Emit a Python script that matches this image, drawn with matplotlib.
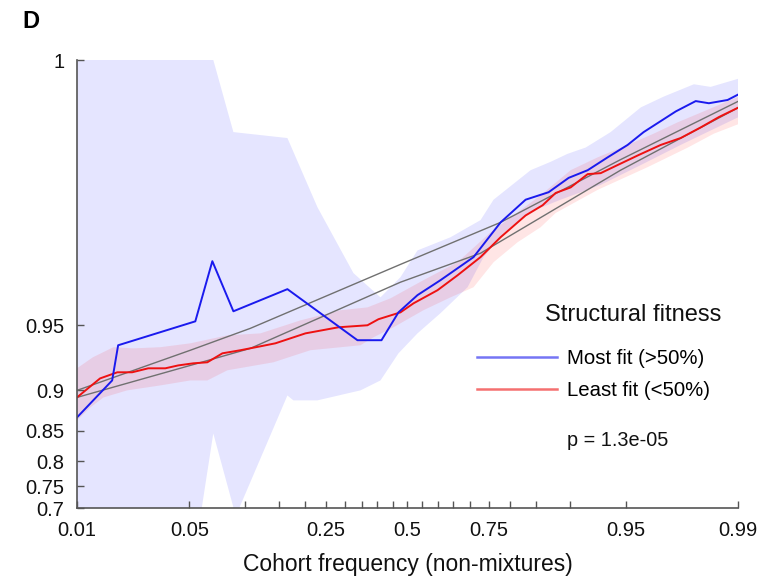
import numpy as np
import matplotlib
matplotlib.use('Agg')
import matplotlib.pyplot as plt
from matplotlib.lines import Line2D
from matplotlib.ticker import NullFormatter

plt.rcParams['font.family'] = ['Liberation Sans', 'DejaVu Sans']

# axis ends (printed as 0.01 / 0.99 and 1)
x_lo, x_hi = 0.0114, 0.9886
y_lo, y_hi = 0.7, 0.9975

x_ticks = [x_lo, 0.05, 0.25, 0.5, 0.75, 0.95, x_hi]
x_tick_labels = ['0.01', '0.05', '0.25', '0.5', '0.75', '0.95', '0.99']
x_minor = [0.1, 0.15, 0.2, 0.3, 0.35, 0.4, 0.45, 0.55, 0.6, 0.65, 0.7, 0.8, 0.85, 0.9]
y_ticks = [0.7, 0.75, 0.8, 0.85, 0.9, 0.95, y_hi]
y_tick_labels = ['0.7', '0.75', '0.8', '0.85', '0.9', '0.95', '1']

# most fit (>50%)
most_x = [0.0114, 0.0182, 0.0197, 0.0539, 0.0669, 0.0870, 0.1650, 0.3372, 0.4131,
          0.4696, 0.5337, 0.6097, 0.7093, 0.7785, 0.8313, 0.8705, 0.8981, 0.9193,
          0.9372, 0.9513, 0.9604, 0.9740, 0.9800, 0.9832, 0.9869, 0.9887]
most_y = [0.8684, 0.9098, 0.9379, 0.9521, 0.9754, 0.9571, 0.9664, 0.9412, 0.9412,
          0.9566, 0.9641, 0.9696, 0.9765, 0.9841, 0.9877, 0.9887, 0.9904, 0.9912,
          0.9924, 0.9934, 0.9943, 0.9955, 0.9960, 0.9959, 0.99605, 0.9963]
most_hi_x = [0.0114, 0.0669, 0.0870, 0.1650, 0.2287, 0.3252, 0.4098, 0.4763, 0.5337,
             0.6413, 0.7283, 0.7617, 0.8405, 0.8735, 0.8968, 0.9172, 0.9395, 0.9589,
             0.9695, 0.9795, 0.9836, 0.9886]
most_hi_y = [0.9976, 0.9976, 0.9943, 0.9939, 0.9866, 0.9719, 0.9632, 0.9706, 0.9782,
             0.9812, 0.9845, 0.9877, 0.9912, 0.9920, 0.9927, 0.9932, 0.9943, 0.9957,
             0.9962, 0.9967, 0.9966, 0.9969]
most_lo_x = [0.0114, 0.0506, 0.0677, 0.0896, 0.1650, 0.1764, 0.2287, 0.3464, 0.4098,
             0.4696, 0.5337, 0.6097, 0.6923, 0.7363, 0.7853, 0.8350, 0.8877, 0.9314,
             0.9589, 0.9756, 0.9887]
most_lo_y = [0.5, 0.5, 0.8459, 0.68, 0.8946, 0.8892, 0.8892, 0.9000, 0.9098,
             0.9323, 0.9454, 0.9562, 0.9671, 0.9765, 0.9820, 0.9857, 0.9877, 0.9896,
             0.9917, 0.9934, 0.9952]

# least fit (<50%)
least_x = [0.0114, 0.0155, 0.0195, 0.0237, 0.0293, 0.0366, 0.0433, 0.0526, 0.0628,
           0.0759, 0.0948, 0.1207, 0.1438, 0.2013, 0.2825, 0.3680, 0.4032, 0.4763,
           0.5203, 0.5999, 0.6628, 0.7283, 0.7785, 0.8313, 0.8611, 0.8808, 0.9005,
           0.9193, 0.9314, 0.9446, 0.9578, 0.9683, 0.9756, 0.9813, 0.9853, 0.9887]
least_y = [0.8925, 0.9117, 0.9172, 0.9172, 0.9206, 0.9206, 0.9230, 0.9247, 0.9255,
           0.9323, 0.9345, 0.9372, 0.9392, 0.9454, 0.9489, 0.9500, 0.9532, 0.9566,
           0.9607, 0.9660, 0.9712, 0.9765, 0.9812, 0.9853, 0.9869, 0.9886, 0.9893,
           0.9908, 0.9909, 0.9917, 0.9926, 0.9934, 0.9939, 0.9946, 0.9952, 0.9957]
least_hi_x = [0.0114, 0.0141, 0.0185, 0.0240, 0.0343, 0.0506, 0.0807, 0.1207, 0.1906,
              0.2880, 0.3680, 0.4428, 0.5538, 0.6628, 0.7543, 0.8155, 0.8578, 0.9005,
              0.9288, 0.9513, 0.9653, 0.9746, 0.9820, 0.9887]
least_hi_y = [0.9206, 0.9294, 0.9366, 0.9358, 0.9366, 0.9392, 0.9442, 0.9454, 0.9526,
              0.9576, 0.9589, 0.9628, 0.9696, 0.9751, 0.9822, 0.9858, 0.9883, 0.9912,
              0.9924, 0.9934, 0.9942, 0.9949, 0.9955, 0.9962]
least_lo_x = [0.0114, 0.0136, 0.0162, 0.0222, 0.0343, 0.0506, 0.0628, 0.0807, 0.1406,
              0.2123, 0.3464, 0.3872, 0.4529, 0.5538, 0.6413, 0.7093, 0.7617, 0.8155,
              0.8578, 0.8808, 0.9288, 0.9624, 0.9778, 0.9843, 0.9887]
least_lo_y = [0.8644, 0.8809, 0.8924, 0.9000, 0.9050, 0.9098, 0.9098, 0.9189, 0.9255,
              0.9345, 0.9379, 0.9430, 0.9489, 0.9576, 0.9632, 0.9671, 0.9751, 0.9801,
              0.9832, 0.9857, 0.9890, 0.9915, 0.9932, 0.9942, 0.9948]

# reference fits
fit1_x = [0.0114, 0.0506, 0.1070, 0.4763, 0.7785, 0.9467, 0.9887]
fit1_y = [0.9000, 0.9345, 0.9483, 0.9745, 0.9841, 0.9922, 0.9960]
fit2_x = [0.0114, 0.0506, 0.1070, 0.4763, 0.7283, 0.9467, 0.9887]
fit2_y = [0.8925, 0.9230, 0.9358, 0.9689, 0.9775, 0.9912, 0.9957]

p_text = 'p = 1.3e-05'

fig = plt.figure(figsize=(7.66, 5.77), dpi=100)
ax = fig.add_axes([77 / 766, 1 - 508 / 577, 661 / 766, 448 / 577])
ax.set_xscale('logit')
ax.set_yscale('logit')


def band(x_hi_, y_hi_, x_lo_, y_lo_, color):
    xs = np.concatenate([x_hi_, x_lo_[::-1]])
    ys = np.concatenate([y_hi_, y_lo_[::-1]])
    ax.fill(xs, ys, color=color, alpha=0.1, lw=0)


band(most_hi_x, most_hi_y, most_lo_x, most_lo_y, '#0000ff')
band(least_hi_x, least_hi_y, least_lo_x, least_lo_y, '#ff0000')

ax.plot(fit1_x, fit1_y, color='#707070', lw=1.0)
ax.plot(fit2_x, fit2_y, color='#707070', lw=1.0)
ax.plot(least_x, least_y, color='#ee1111', lw=1.4)
ax.plot(most_x, most_y, color='#1a1aee', lw=1.4)

ax.set_xlim(x_lo, x_hi)
ax.set_ylim(y_lo, y_hi)
ax.set_xticks(x_ticks, x_tick_labels)
ax.set_xticks(x_minor, minor=True)
ax.xaxis.set_minor_formatter(NullFormatter())
ax.set_yticks(y_ticks, y_tick_labels)
ax.set_yticks([], minor=True)

for s in ['top', 'right']:
    ax.spines[s].set_visible(False)
for s in ['left', 'bottom']:
    ax.spines[s].set_color('#555555')
    ax.spines[s].set_linewidth(1.2)
ax.tick_params(which='both', direction='in', length=5, width=1, color='#555555',
               labelsize=14.5, labelcolor='#111111')
ax.tick_params(axis='x', pad=9)
ax.tick_params(axis='y', pad=9)
ax.set_xlabel('Cohort frequency (non-mixtures)', fontsize=16.5, color='#111111', labelpad=10)

handles = [Line2D([], [], color='#1a1aee', alpha=0.6, lw=1.8),
           Line2D([], [], color='#ee1111', alpha=0.6, lw=1.8)]
ax.legend(handles, ['Most fit (>50%)', 'Least fit (<50%)'], frameon=False,
          loc='upper left', bbox_to_anchor=(477 / 766, 1 - 349 / 577),
          bbox_transform=fig.transFigure, borderpad=0, borderaxespad=0,
          fontsize=14.7, handlelength=3.9, handletextpad=0.5, labelspacing=0.65)
fig.text(545 / 766, 1 - 315 / 577, 'Structural fitness', fontsize=17, va='center',
         color='#111111')
fig.text(567 / 766, 1 - 440 / 577, p_text, fontsize=14.3, va='center', color='#111111')
fig.text(22 / 766, 1 - 21 / 577, 'D', fontsize=17, fontweight='bold', va='center')

fig.savefig('out.png', dpi=100)
